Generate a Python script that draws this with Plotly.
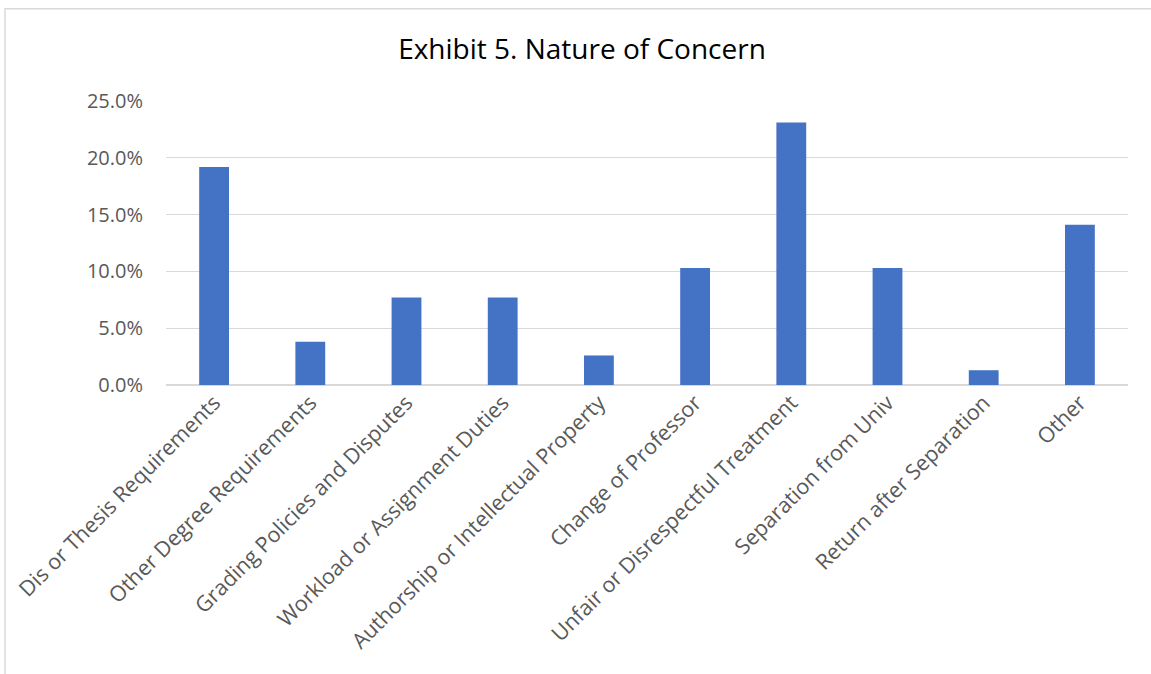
import plotly.graph_objects as go

categories = [
    "Dis or Thesis Requirements",
    "Other Degree Requirements",
    "Grading Policies and Disputes",
    "Workload or Assignment Duties",
    "Authorship or Intellectual Property",
    "Change of Professor",
    "Unfair or Disrespectful Treatment",
    "Separation from Univ",
    "Return after Separation",
    "Other",
]
values = [0.192, 0.038, 0.077, 0.077, 0.026, 0.103, 0.231, 0.103, 0.013, 0.141]
y_ticks = [0, 0.05, 0.10, 0.15, 0.20, 0.25]

W, H = 1151, 674
L, R, T, B = 166, 23, 100.5, 288.5
pw, ph = W - L - R, H - T - B

fig = go.Figure(go.Bar(x=categories, y=values, marker_color="#4472C4",
                       marker_line_width=0))

def px_x(p):
    return (p - L) / pw

def px_y(p):
    return (H - B - p) / ph

fig.add_shape(type="rect", xref="paper", yref="paper",
              x0=px_x(5), x1=px_x(1160), y0=px_y(8), y1=px_y(690),
              line=dict(color="#d9d9d9", width=1.5), layer="below")

fig.update_layout(
    width=W, height=H,
    margin=dict(l=L, r=R, t=T, b=B),
    paper_bgcolor="white", plot_bgcolor="white",
    bargap=0.69,
    showlegend=False,
    title=dict(text="Exhibit 5. Nature of Concern", x=582 / W, xref="container",
               xanchor="center", y=1 - 49 / H, yanchor="middle",
               font=dict(family="Open Sans", size=28, color="#000000")),
    font=dict(family="Open Sans", color="#595959"),
)
fig.update_yaxes(range=[0, 0.25], tickvals=y_ticks, tickformat=".1%",
                 showgrid=True, gridcolor="#d9d9d9", gridwidth=1.3,
                 zeroline=True, zerolinecolor="#d9d9d9", zerolinewidth=1.5,
                 showline=False, ticks="", ticklabelstandoff=22,
                 tickfont=dict(size=20, color="#595959"), fixedrange=True)
fig.update_xaxes(tickangle=-45, showline=False, ticks="",
                 tickfont=dict(size=21.5, color="#595959"), fixedrange=True)

fig.write_html("out.html")
